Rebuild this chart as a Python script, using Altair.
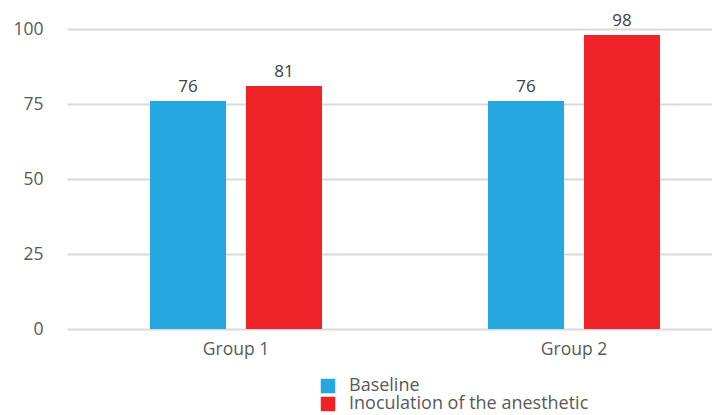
import altair as alt
import pandas as pd

groups = ["Group 1", "Group 1", "Group 2", "Group 2"]
series = ["Baseline", "Inoculation of the anesthetic", "Baseline", "Inoculation of the anesthetic"]
values = [76, 81, 76, 98]
series_order = ["Baseline", "Inoculation of the anesthetic"]
colors = ["#25a7df", "#ee2227"]
y_ticks = [0, 25, 50, 75, 100]

df = pd.DataFrame({"group": groups, "series": series, "value": values})

FONT = "Open Sans"

base = alt.Chart(df).encode(
    x=alt.X("group:N", title=None,
            scale=alt.Scale(range=[0, 676], paddingInner=0, paddingOuter=0),
            axis=alt.Axis(labelAngle=0, labelFontSize=17.5, labelColor="#595959",
                          labelFont=FONT, domain=False, ticks=False, labelPadding=11)),
    xOffset=alt.XOffset("series:N", sort=series_order,
                        scale=alt.Scale(paddingInner=0.208, paddingOuter=0.865)),
    y=alt.Y("value:Q", title=None,
            scale=alt.Scale(domain=[0, 100], nice=False),
            axis=alt.Axis(values=y_ticks, labelFontSize=17.5, labelColor="#595959",
                          labelFont=FONT, domain=False, ticks=False, labelPadding=24,
                          gridColor="#d9d9d9", gridWidth=2)),
)

bars = base.mark_bar().encode(
    color=alt.Color("series:N", sort=series_order,
                    scale=alt.Scale(domain=series_order, range=colors),
                    legend=alt.Legend(title=None, orient="none", legendX=252, legendY=348,
                                      symbolType="square", symbolSize=210,
                                      symbolStrokeWidth=0, labelFontSize=18,
                                      labelColor="#595959", labelFont=FONT,
                                      labelLimit=0, rowPadding=0, labelOffset=12))
)

labels = base.mark_text(baseline="bottom", dy=-5, fontSize=17, color="#404040",
                        font=FONT).encode(text=alt.Text("value:Q"))

chart = (bars + labels).properties(
    width=645, height=300,
    autosize=alt.AutoSizeParams(type="none"),
    padding={"left": 59, "top": 21, "right": 0, "bottom": 86},
).configure_view(stroke=None)

chart.save("out.html", embed_options={"renderer": "svg", "actions": False})
